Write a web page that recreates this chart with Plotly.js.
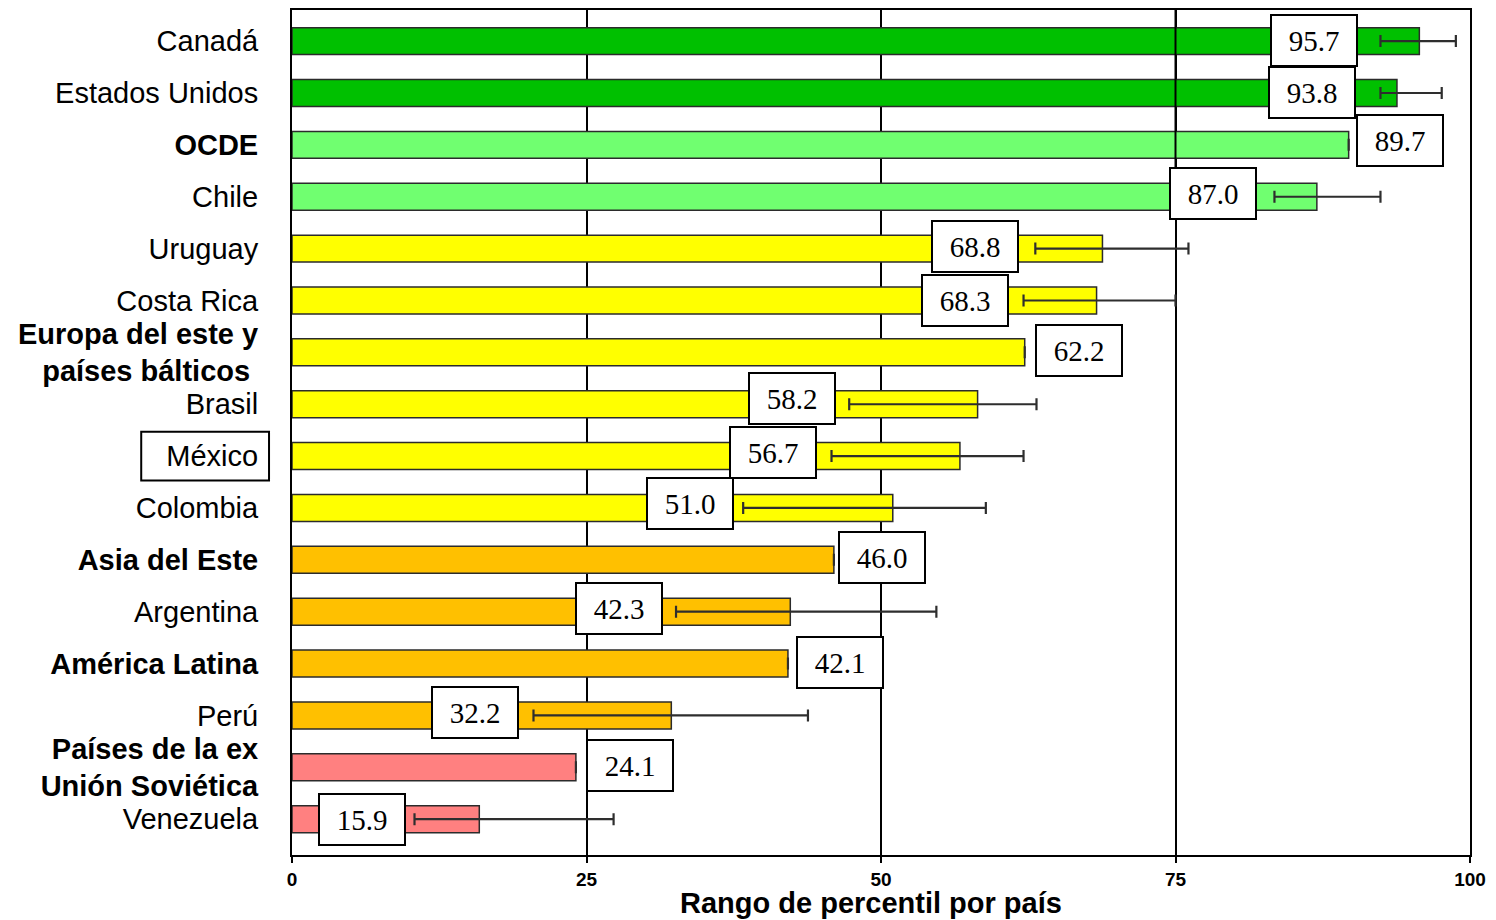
<!DOCTYPE html>
<html>
<head>
<meta charset="utf-8">
<script src="https://cdn.plot.ly/plotly-3.0.1.min.js"></script>
<style>
  html, body { margin: 0; padding: 0; background: #ffffff; }
  #chart { width: 1496px; height: 920px; }
</style>
</head>
<body>
<div id="chart"></div>
<script>
// ---- data ----
const categories = ["Canadá", "Estados Unidos", "OCDE", "Chile", "Uruguay", "Costa Rica",
  "Europa del este y países bálticos", "Brasil", "México", "Colombia", "Asia del Este",
  "Argentina", "América Latina", "Perú", "Países de la ex Unión Soviética", "Venezuela"];
const tickLabels = ["Canadá", "Estados Unidos", "<b>OCDE</b>", "Chile", "Uruguay", "Costa Rica",
  "<b>Europa del este y<br>países bálticos </b>", "Brasil", "México", "Colombia", "<b>Asia del Este</b>",
  "Argentina", "<b>América Latina</b>", "Perú", "<b>Países de la ex<br>Unión Soviética</b>", "Venezuela"];
const values = [95.7, 93.8, 89.7, 87.0, 68.8, 68.3, 62.2, 58.2, 56.7, 51.0, 46.0, 42.3, 42.1, 32.2, 24.1, 15.9];
const errLow  = [92.4, 92.4, null, 83.4, 63.1, 62.1, null, 47.3, 45.8, 38.3, null, 32.6, null, 20.5, null, 10.4];
const errHigh = [98.8, 97.6, null, 92.4, 76.1, 75.0, null, 63.2, 62.1, 58.9, null, 54.7, null, 43.8, null, 27.3];
const groups  = ["top", "top", "high", "high", "mid", "mid", "mid", "mid", "mid", "mid",
  "low", "low", "low", "low", "bottom", "bottom"];
const axisTitle = "Rango de percentil por país";

// ---- styles / placement ----
const groupColors = { top: "#00C000", high: "#70FF70", mid: "#FFFF00", low: "#FFC000", bottom: "#FF8080" };
const labelXShift = [-22, -24, 7, -17, -16, -15, 10, -13, -15, -9, 4, -13, 8, -14, 10, -9];
const labelYShift = [1, 1, 4, 3, 2, 0, 2, 6, 4, 4, 2, 3, 1, 3, 2, 0];

const errPlus = values.map((v, i) => errHigh[i] == null ? null : +(errHigh[i] - v).toFixed(2));
const errMinus = values.map((v, i) => errLow[i] == null ? null : +(v - errLow[i]).toFixed(2));

const trace = {
  type: "bar",
  orientation: "h",
  x: values,
  y: categories,
  width: 0.52,
  marker: {
    color: groups.map(g => groupColors[g]),
    line: { color: "#2b2b2b", width: 1.5 }
  },
  error_x: {
    type: "data",
    symmetric: false,
    array: errPlus,
    arrayminus: errMinus,
    color: "#2e2e2e",
    thickness: 2.2,
    width: 6
  },
  hoverinfo: "x+y",
  showlegend: false
};

const annotations = values.map((v, i) => {
  const hasErr = errLow[i] != null;
  return {
    x: hasErr ? errLow[i] : v,
    y: categories[i],
    xref: "x", yref: "y",
    xanchor: hasErr ? "right" : "left",
    yanchor: "middle",
    xshift: labelXShift[i],
    yshift: labelYShift[i],
    text: v.toFixed(1),
    showarrow: false,
    font: { family: "Liberation Serif, Times New Roman, serif", size: 29, color: "#000" },
    bgcolor: "#ffffff",
    bordercolor: "#000000",
    borderwidth: 2,
    borderpad: 1,
    width: 82,
    height: 47
  };
});

annotations.push({
  text: axisTitle,
  xref: "paper", yref: "paper",
  x: 0.4915, y: -0.0568,
  xanchor: "center", yanchor: "middle",
  showarrow: false,
  font: { family: "Liberation Sans, Arial, sans-serif", size: 29, color: "#000", weight: "bold" }
});

const mexIdx = categories.indexOf("México");

const layout = {
  width: 1496,
  height: 920,
  margin: { l: 292, r: 26, t: 10, b: 65, pad: 0 },
  paper_bgcolor: "#ffffff",
  plot_bgcolor: "#ffffff",
  xaxis: {
    range: [0, 100],
    tickvals: [0, 25, 50, 75, 100],
    ticktext: ["0", "25", "50", "75", "100"],
    tickfont: { family: "Liberation Sans, Arial, sans-serif", size: 19, color: "#000", weight: "bold" },
    ticks: "outside",
    ticklen: 6,
    tickwidth: 2,
    tickcolor: "#000",
    showgrid: true,
    gridcolor: "#000",
    gridwidth: 2,
    zeroline: false,
    showline: true,
    linecolor: "#000",
    linewidth: 2,
    mirror: true,
    fixedrange: true
  },
  yaxis: {
    type: "category",
    categoryorder: "array",
    categoryarray: categories,
    range: [15.69, -0.6],
    tickvals: categories,
    ticktext: tickLabels,
    tickfont: { family: "Liberation Sans, Arial, sans-serif", size: 29, color: "#000" },
    ticks: "",
    ticklabelstandoff: 26,
    showgrid: false,
    zeroline: false,
    showline: true,
    linecolor: "#000",
    linewidth: 2,
    mirror: true,
    fixedrange: true
  },
  shapes: [
    {
      type: "line", layer: "above",
      xref: "x", yref: "y",
      x0: 75, x1: 75, y0: -0.6, y1: 2.5,
      line: { color: "#000", width: 2 }
    },
    {
      type: "rect", layer: "above",
      xref: "paper", yref: "y",
      x0: -0.128, x1: -0.0195, y0: mexIdx - 0.47, y1: mexIdx + 0.47,
      line: { color: "#000", width: 2 },
      fillcolor: "rgba(0,0,0,0)"
    }
  ],
  annotations: annotations
};

Plotly.newPlot("chart", [trace], layout, { displayModeBar: false, staticPlot: true });
</script>
</body>
</html>
